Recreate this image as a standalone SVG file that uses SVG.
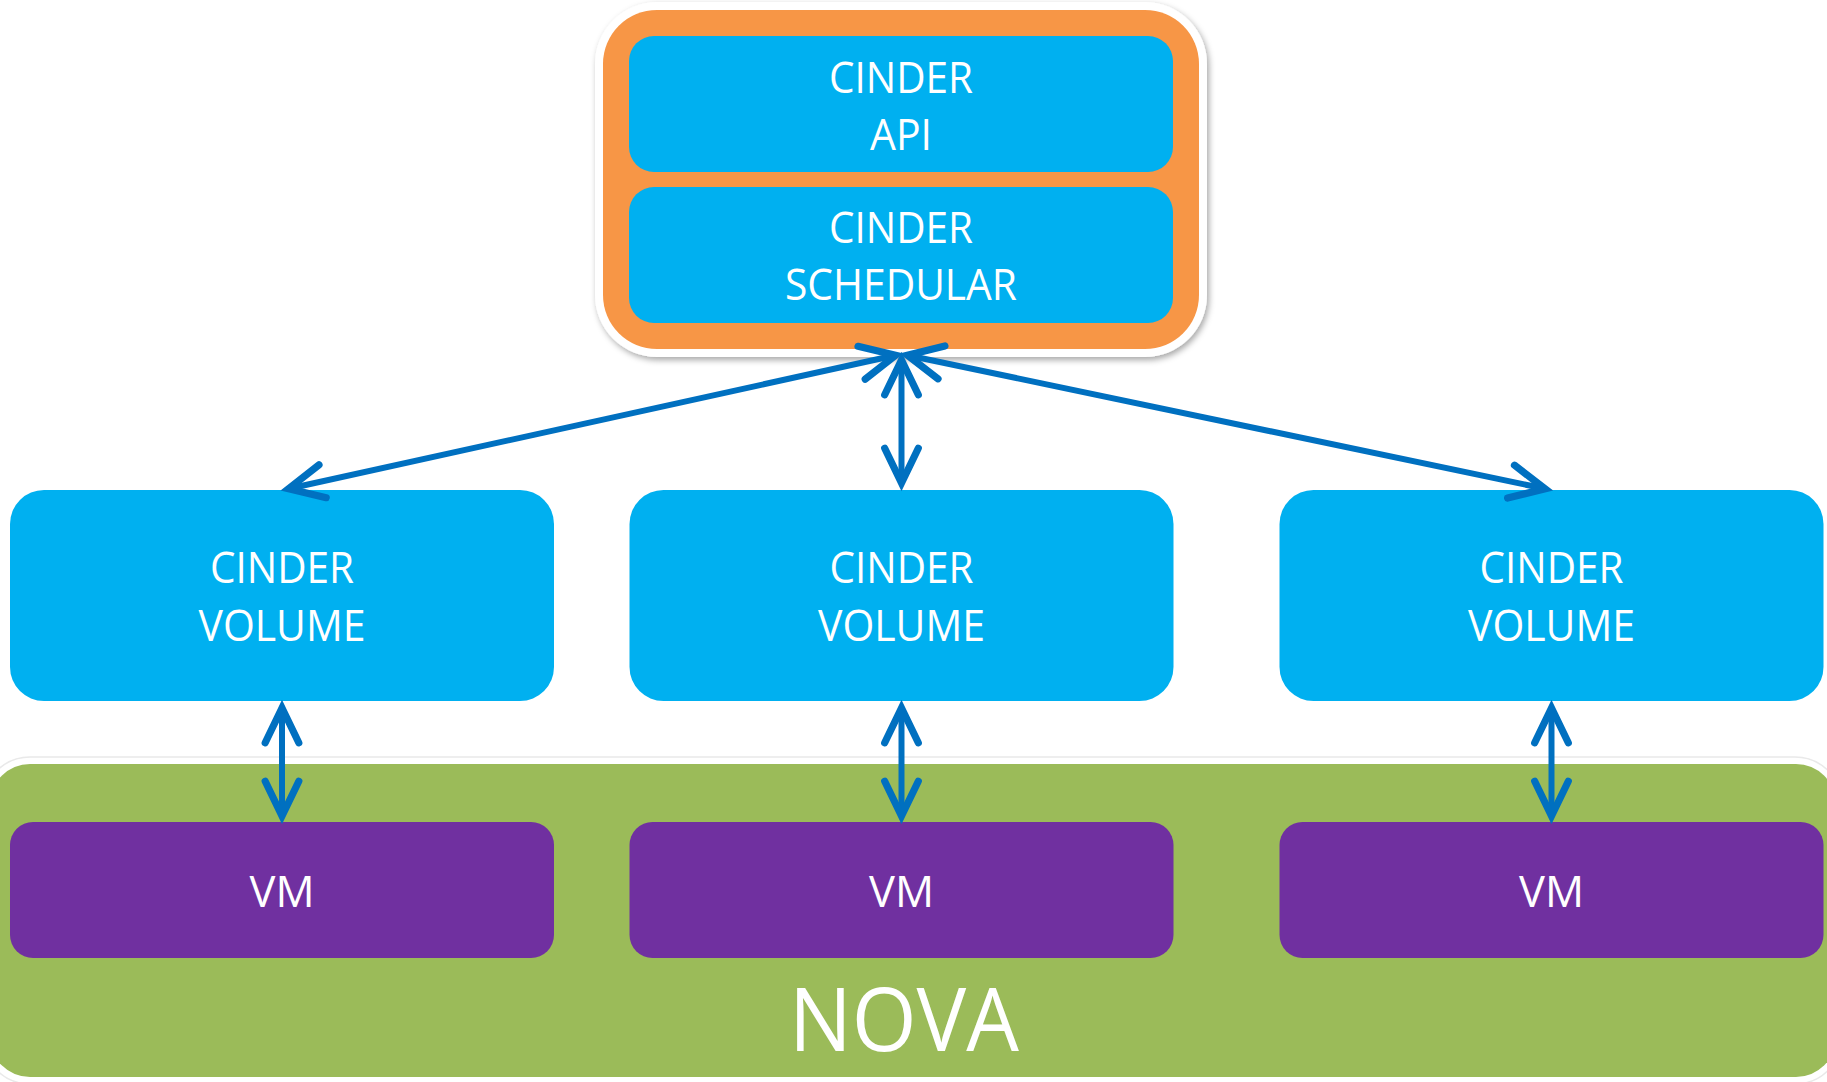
<svg xmlns="http://www.w3.org/2000/svg" width="1827" height="1082" viewBox="0 0 1827 1082">
<style>
.cin{fill:#00B0F0}
.vm{fill:#7030A0}
.t{font-family:"Open Sans","Noto Sans","Liberation Sans",sans-serif;fill:#FFFFFF;font-size:43px;text-anchor:middle}
.big{font-size:87px}
.con{stroke:#0070C0;stroke-width:6;fill:none;stroke-linecap:butt}
</style>
<defs>
<filter id="sh" x="-5%" y="-5%" width="110%" height="115%">
<feDropShadow dx="2" dy="3" stdDeviation="3" flood-color="#000" flood-opacity="0.35"/>
</filter>
<marker id="ah" markerUnits="userSpaceOnUse" orient="auto-start-reverse" refX="0" refY="0" markerWidth="60" markerHeight="60" viewBox="-40 -25 50 50" overflow="visible">
<path d="M-29,-14 L0,0 L-29,14" fill="none" stroke="#0070C0" stroke-width="6" stroke-linecap="round" stroke-linejoin="miter"/>
</marker>
</defs>
<rect width="1827" height="1082" fill="#FFFFFF"/>

<g id="nova">
<rect x="-17" y="757" width="1859" height="327" rx="47" fill="none" stroke="#e9e9e9" stroke-width="1.5"/>
<rect x="-10" y="764" width="1846" height="313" rx="40" fill="#9BBB59"/>
<text class="t big" x="904" y="1051" textLength="230" lengthAdjust="spacingAndGlyphs">NOVA</text>
</g>

<g id="cinder-control">
<rect x="595" y="2" width="612" height="355" rx="62" fill="#FFFFFF" filter="url(#sh)"/>
<rect x="603" y="10" width="596" height="339" rx="54" fill="#F79646"/>
</g>

<g id="cinder-api">
<rect class="cin" x="629" y="36" width="544" height="136" rx="25"/>
<text class="t" x="901" y="92.7" textLength="144" lengthAdjust="spacingAndGlyphs">CINDER</text>
<text class="t" x="901" y="150" textLength="62" lengthAdjust="spacingAndGlyphs">API</text>
</g>

<g id="cinder-scheduler">
<rect class="cin" x="629" y="187" width="544" height="136" rx="25"/>
<text class="t" x="901" y="243.3" textLength="144" lengthAdjust="spacingAndGlyphs">CINDER</text>
<text class="t" x="901" y="300" textLength="232" lengthAdjust="spacingAndGlyphs">SCHEDULAR</text>
</g>

<g id="volume-1">
<rect class="cin" x="10" y="490" width="544" height="211" rx="34"/>
<text class="t" x="282" y="583.3" textLength="144" lengthAdjust="spacingAndGlyphs">CINDER</text>
<text class="t" x="282" y="641" textLength="167" lengthAdjust="spacingAndGlyphs">VOLUME</text>
</g>
<g id="volume-2">
<rect class="cin" x="629.5" y="490" width="544" height="211" rx="34"/>
<text class="t" x="901.5" y="583.3" textLength="144" lengthAdjust="spacingAndGlyphs">CINDER</text>
<text class="t" x="901.5" y="641" textLength="167" lengthAdjust="spacingAndGlyphs">VOLUME</text>
</g>
<g id="volume-3">
<rect class="cin" x="1279.5" y="490" width="544" height="211" rx="34"/>
<text class="t" x="1551.5" y="583.3" textLength="144" lengthAdjust="spacingAndGlyphs">CINDER</text>
<text class="t" x="1551.5" y="641" textLength="167" lengthAdjust="spacingAndGlyphs">VOLUME</text>
</g>

<g id="vm-1">
<rect class="vm" x="10" y="822" width="544" height="136" rx="23"/>
<text class="t" x="282" y="907.3" textLength="65" lengthAdjust="spacingAndGlyphs">VM</text>
</g>
<g id="vm-2">
<rect class="vm" x="629.5" y="822" width="544" height="136" rx="23"/>
<text class="t" x="901.5" y="907.3" textLength="65" lengthAdjust="spacingAndGlyphs">VM</text>
</g>
<g id="vm-3">
<rect class="vm" x="1279.5" y="822" width="544" height="136" rx="23"/>
<text class="t" x="1551.5" y="907.3" textLength="65" lengthAdjust="spacingAndGlyphs">VM</text>
</g>

<g id="connectors">
<line class="con" x1="895.6" y1="355.3" x2="288.6" y2="488.7" marker-start="url(#ah)" marker-end="url(#ah)"/>
<line class="con" x1="907.4" y1="355.2" x2="1545.1" y2="488.8" marker-start="url(#ah)" marker-end="url(#ah)"/>
<line class="con" x1="901.5" y1="360" x2="901.5" y2="483" marker-start="url(#ah)" marker-end="url(#ah)"/>
<line class="con" x1="282" y1="708" x2="282" y2="816" marker-start="url(#ah)" marker-end="url(#ah)"/>
<line class="con" x1="901.5" y1="708" x2="901.5" y2="816" marker-start="url(#ah)" marker-end="url(#ah)"/>
<line class="con" x1="1551.5" y1="708" x2="1551.5" y2="816" marker-start="url(#ah)" marker-end="url(#ah)"/>
</g>
</svg>
